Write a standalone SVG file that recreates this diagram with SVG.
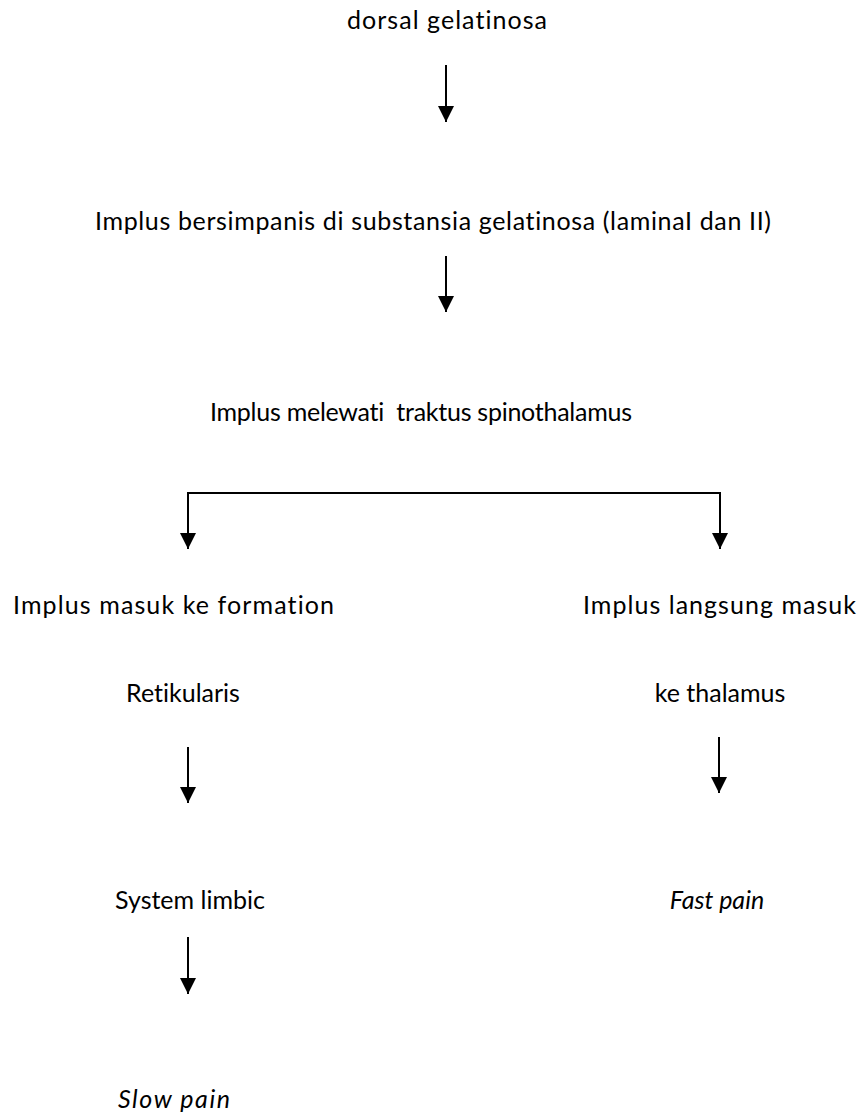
<svg xmlns="http://www.w3.org/2000/svg" width="866" height="1116" viewBox="0 0 866 1116">
<defs>
<style>
text{font-family:Lato,"Open Sans","Liberation Sans",sans-serif;font-size:25px;fill:#000;font-variant-ligatures:none}
.m{text-anchor:middle}
.it{font-style:italic}
.c{fill:none;stroke:#000;stroke-width:2}
</style>
<marker id="ah" viewBox="0 0 16 16" refX="16" refY="8" markerWidth="16" markerHeight="16" markerUnits="userSpaceOnUse" orient="auto">
<path d="M0,0 L16,8 L0,16 z" fill="#000"/>
</marker>
</defs>
<rect width="866" height="1116" fill="#fff"/>
<g id="n1"><text x="347" y="29" textLength="200">dorsal gelatinosa</text></g>
<g id="n2"><text x="95" y="230" textLength="676">Implus bersimpanis di substansia gelatinosa (laminaI dan II)</text></g>
<g id="n3"><text x="210" y="421" textLength="422" xml:space="preserve">Implus melewati  traktus spinothalamus</text></g>
<g id="n4"><text x="13" y="614" textLength="321">Implus masuk ke formation</text><text class="m" x="183" y="702">Retikularis</text></g>
<g id="n5"><text x="583" y="614" textLength="273">Implus langsung masuk</text><text class="m" x="720" y="702">ke thalamus</text></g>
<g id="n6"><text class="m" x="190" y="909">System limbic</text></g>
<g id="n7"><text class="m it" x="717" y="909">Fast pain</text></g>
<g id="n8"><text class="it" x="118" y="1108" textLength="112">Slow pain</text></g>
<g id="connectors">
<line class="c" x1="446" y1="65" x2="446" y2="122" marker-end="url(#ah)"/>
<line class="c" x1="446" y1="256" x2="446" y2="312" marker-end="url(#ah)"/>
<polyline class="c" points="188,549 188,493 720,493 720,549" marker-end="url(#ah)"/>
<line class="c" x1="188" y1="540" x2="188" y2="549" marker-end="url(#ah)"/>
<line class="c" x1="188" y1="747" x2="188" y2="803" marker-end="url(#ah)"/>
<line class="c" x1="719" y1="737" x2="719" y2="793" marker-end="url(#ah)"/>
<line class="c" x1="188" y1="937" x2="188" y2="994" marker-end="url(#ah)"/>
</g>
</svg>
